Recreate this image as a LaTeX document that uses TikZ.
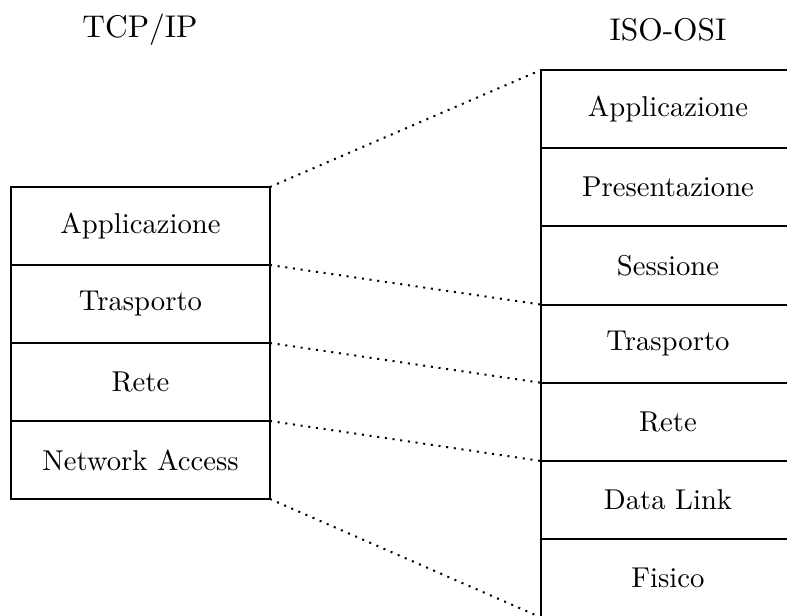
\documentclass[tikz,border=0pt]{standalone}
\begin{document}
\begin{tikzpicture}[x=0.3487pt,y=-0.3487pt, line width=0.7pt,
  layer/.style={draw, rectangle, inner sep=0pt, outer sep=0pt, minimum width=90.3pt, minimum height=27.2pt, font=\normalsize},
  osilayer/.style={layer, minimum width=88.6pt, minimum height=27.27pt},
  title/.style={font=\fontsize{10.95}{13}\selectfont},
  link/.style={dotted}]
\useasboundingbox (0,0) rectangle (787,616);
\node[title] (t1) at (140,30) {TCP/IP};
\node[title] (t2) at (668,30) {ISO-OSI};
\node[layer] (tcp1) at (140.5,226) {Applicazione};
\node[layer] (tcp2) at (140.5,304) {Trasporto};
\node[layer] (tcp3) at (140.5,382) {Rete};
\node[layer] (tcp4) at (140.5,460) {Network Access};
\node[osilayer] (osi1) at (668,109.1) {Applicazione};
\node[osilayer] (osi2) at (668,187.3) {Presentazione};
\node[osilayer] (osi3) at (668,265.5) {Sessione};
\node[osilayer] (osi4) at (668,343.7) {Trasporto};
\node[osilayer] (osi5) at (668,421.9) {Rete};
\node[osilayer] (osi6) at (668,500.1) {Data Link};
\node[osilayer] (osi7) at (668,578.3) {Fisico};
\draw[link] (tcp1.north east) -- (osi1.north west);
\draw[link] (tcp1.south east) -- (osi3.south west);
\draw[link] (tcp2.south east) -- (osi4.south west);
\draw[link] (tcp3.south east) -- (osi5.south west);
\draw[link] (tcp4.south east) -- (osi7.south west);
\end{tikzpicture}
\end{document}
